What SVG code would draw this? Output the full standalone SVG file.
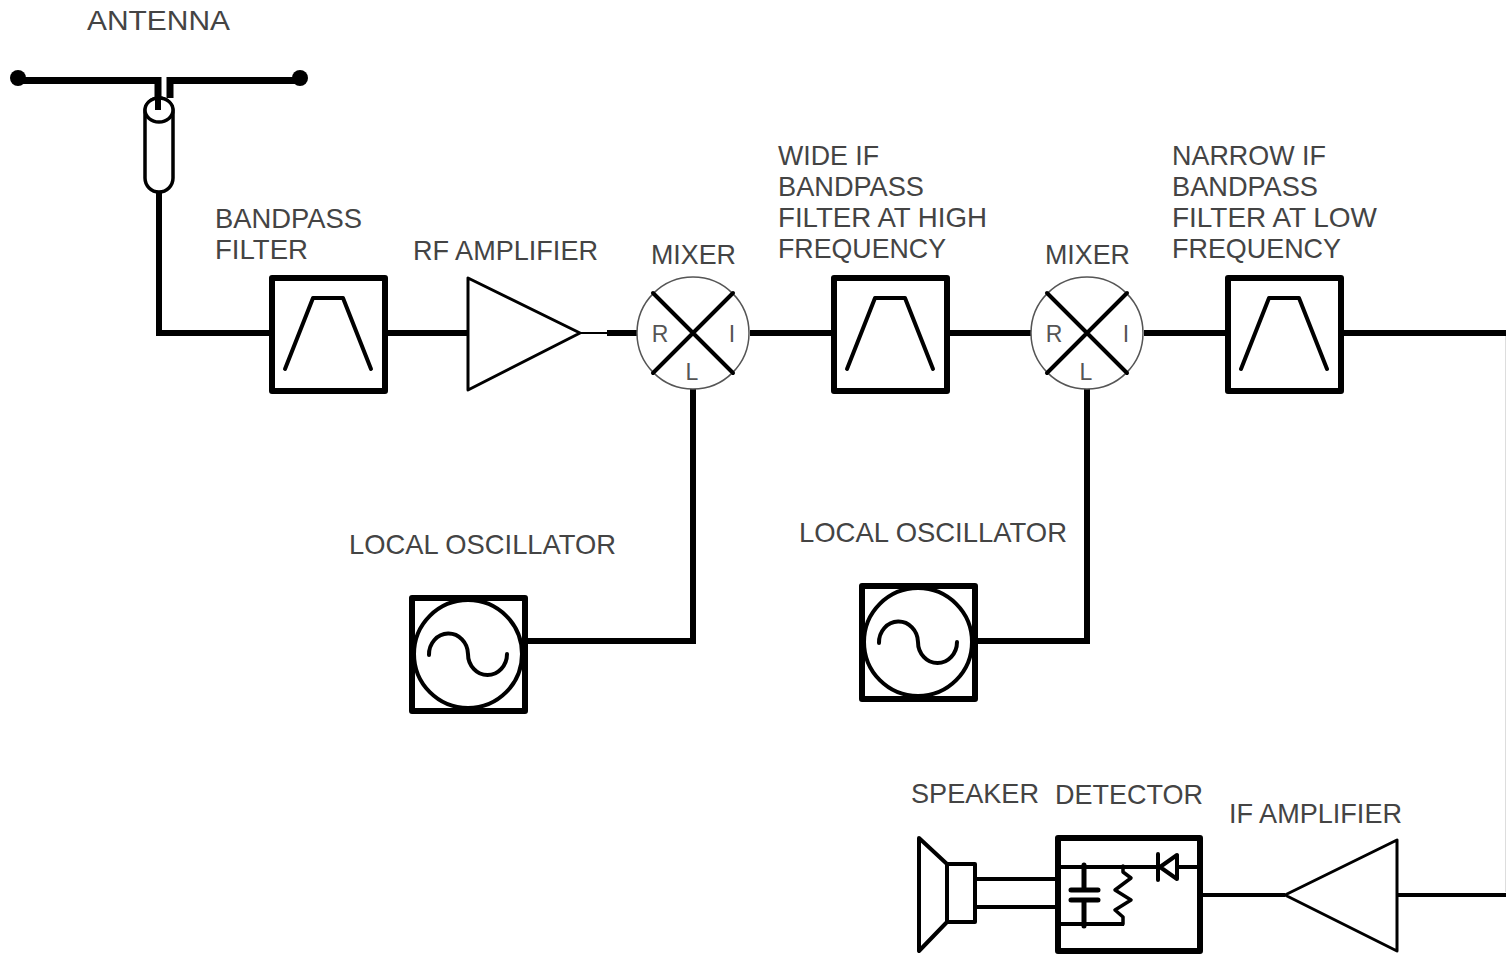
<svg xmlns="http://www.w3.org/2000/svg" width="1506" height="954" viewBox="0 0 1506 954">
<defs>
<style>
text{font-family:"Liberation Sans",Arial,sans-serif;font-size:27.500px;fill:#444;lengthAdjust:spacingAndGlyphs}
.pin{font-size:23px;text-anchor:middle;fill:#555}
.w{fill:none;stroke:#000;stroke-width:6;stroke-linejoin:miter}
.n{fill:none;stroke:#000;stroke-width:4}
.m{fill:none;stroke:#000;stroke-width:4;stroke-linecap:round;stroke-linejoin:round}
.b{fill:#fff;stroke:#000;stroke-width:6;stroke-linejoin:round}
.t{fill:#fff;stroke:#000;stroke-width:3;stroke-linejoin:round}
.c{fill:#fff;stroke:#555;stroke-width:1.500}
</style>
<g id="filt"><rect class="b" x="-56" y="-56" width="113" height="113"/><path class="m" d="M-43 35L-15-36H15L43 35"/></g>
<g id="mix"><circle class="c" cx="0" cy="0" r="56"/><path class="m" d="M-40-40L40 40M40-40L-40 40"/></g>
<g id="osc"><rect class="b" x="-56" y="-56" width="113" height="113"/><circle cx="0" cy="0" r="54" fill="#fff" stroke="#000" stroke-width="4"/><path class="m" d="M-39 1A19.500 21 0 0 1 0 0A19.500 21 0 0 0 39 0"/></g>
</defs>
<g id="connectors">
<path d="M1505.500 336V892" fill="none" stroke="#ddd" stroke-width="1"/>
<path class="w" style="stroke-width:7" d="M18 80.500H158V110"/>
<path class="w" style="stroke-width:7" d="M300 80.500H170V98"/>
<path class="w" d="M159 192V333H271M385 333H468M607 333H637M750 333H833M947 333H1031M1144 333H1227M1341 333H1506M693 389V641H525M1087 389V641H975"/>
<path class="n" style="stroke-width:2" d="M580 333H607"/>
<path class="n" d="M1200 895H1285M1397 895H1506"/>
<path class="n" d="M975 879H1058M975 907H1058"/>
</g>
<g id="antenna"><circle cx="18" cy="78" r="8"/><circle cx="300" cy="78" r="8"/>
<text x="87" y="30" textLength="143" lengthAdjust="spacingAndGlyphs">ANTENNA</text></g>
<g id="coax"><rect class="t" style="stroke-width:3.500" x="145" y="98" width="28" height="94" rx="14" ry="14"/><ellipse class="t" style="stroke-width:3.500" cx="159" cy="110" rx="14" ry="12"/><path class="n" style="stroke-width:6" d="M158 85V110"/></g>
<g id="bandpass"><use href="#filt" x="328" y="334"/><text x="215" y="228" textLength="147" lengthAdjust="spacingAndGlyphs">BANDPASS</text><text x="215" y="259" textLength="93" lengthAdjust="spacingAndGlyphs">FILTER</text></g>
<g id="rf-amp"><path d="M468 278V390L580 333Z" class="t"/><text x="413" y="260" textLength="185" lengthAdjust="spacingAndGlyphs">RF AMPLIFIER</text></g>
<g id="mixer1"><use href="#mix" x="693" y="333"/><text x="651" y="264" textLength="85" lengthAdjust="spacingAndGlyphs">MIXER</text><text class="pin" x="660" y="342">R</text><text class="pin" x="732" y="342">I</text><text class="pin" x="692" y="380">L</text></g>
<g id="wide-if"><use href="#filt" x="890" y="334"/><text x="778" y="165" textLength="101" lengthAdjust="spacingAndGlyphs">WIDE IF</text><text x="778" y="196" textLength="146" lengthAdjust="spacingAndGlyphs">BANDPASS</text><text x="778" y="227" textLength="209" lengthAdjust="spacingAndGlyphs">FILTER AT HIGH</text><text x="778" y="258" textLength="168" lengthAdjust="spacingAndGlyphs">FREQUENCY</text></g>
<g id="mixer2"><use href="#mix" x="1087" y="333"/><text x="1045" y="264" textLength="85" lengthAdjust="spacingAndGlyphs">MIXER</text><text class="pin" x="1054" y="342">R</text><text class="pin" x="1126" y="342">I</text><text class="pin" x="1086" y="380">L</text></g>
<g id="narrow-if"><use href="#filt" x="1284" y="334"/><text x="1172" y="165" textLength="154" lengthAdjust="spacingAndGlyphs">NARROW IF</text><text x="1172" y="196" textLength="146" lengthAdjust="spacingAndGlyphs">BANDPASS</text><text x="1172" y="227" textLength="205" lengthAdjust="spacingAndGlyphs">FILTER AT LOW</text><text x="1172" y="258" textLength="169" lengthAdjust="spacingAndGlyphs">FREQUENCY</text></g>
<g id="lo1"><use href="#osc" x="468" y="654"/><text x="349" y="554" textLength="267" lengthAdjust="spacingAndGlyphs">LOCAL OSCILLATOR</text></g>
<g id="lo2"><use href="#osc" x="918" y="642"/><text x="799" y="542" textLength="268" lengthAdjust="spacingAndGlyphs">LOCAL OSCILLATOR</text></g>
<g id="speaker"><path class="t" style="stroke-width:4" d="M919 838L947 864V922L919 951Z"/><rect class="t" style="stroke-width:4" x="947" y="864" width="28" height="58"/><text x="911" y="803" textLength="128" lengthAdjust="spacingAndGlyphs">SPEAKER</text></g>
<g id="detector"><rect class="b" x="1058" y="838" width="142" height="113"/>
<path class="n" d="M1060 867H1158M1177 867H1198M1060 924H1124"/>
<path class="m" style="stroke-width:3.500" d="M1123 866V872L1131 878L1115 890L1131 900L1115 910L1123 917V924"/>
<path class="m" style="stroke-width:5" d="M1071 890H1098M1071 900H1098M1084 865V890M1084 900V926"/>
<path class="m" d="M1158 854V880M1160 867L1177 855V879Z"/>
<text x="1055" y="804" textLength="148" lengthAdjust="spacingAndGlyphs">DETECTOR</text></g>
<g id="if-amp"><path class="t" d="M1397 840V951L1285 895Z"/><text x="1229" y="823" textLength="173" lengthAdjust="spacingAndGlyphs">IF AMPLIFIER</text></g>
</svg>
